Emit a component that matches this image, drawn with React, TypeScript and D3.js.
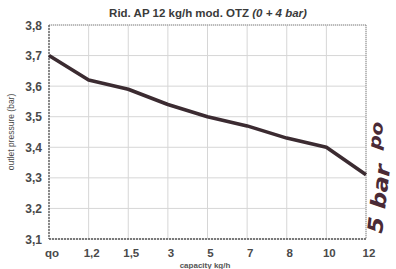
import { scalePoint, scaleLinear, line as d3_line } from "d3";

const categories = ["qo", "1,2", "1,5", "3", "5", "7", "8", "10", "12"];
const pressure = [3.7, 3.62, 3.59, 3.54, 3.5, 3.47, 3.43, 3.4, 3.31];
const yTicks = [3.1, 3.2, 3.3, 3.4, 3.5, 3.6, 3.7, 3.8];

const W = 396;
const H = 269;
const m = { top: 25, right: 30, bottom: 30, left: 49 };

export default function App() {
  const x = scalePoint<string>()
    .domain(categories)
    .range([m.left, W - m.right]);
  const y = scaleLinear()
    .domain([3.1, 3.8])
    .range([H - m.bottom, m.top]);

  const pts = categories.map((c, i) => ({ c, v: pressure[i] }));
  const path = d3_line<(typeof pts)[number]>()
    .x((d) => x(d.c) ?? 0)
    .y((d) => y(d.v))(pts);

  const font = "'Liberation Sans', Arial, sans-serif";
  const x0 = m.left;
  const x1 = W - m.right;
  const yTop = m.top;
  const yBot = H - m.bottom;

  return (
    <svg
      width={W}
      height={H}
      style={{ position: "absolute", left: 0, top: 0, background: "#fff" }}
      fontFamily={font}
    >
      {/* title */}
      <text x={208} y={17} textAnchor="middle" fontSize={11.5} fontWeight="bold" fill="#3a3a3a">
        Rid. AP 12 kg/h mod. OTZ <tspan fontStyle="italic">(0 + 4 bar)</tspan>
      </text>

      {/* grid */}
      {yTicks.map((t) => (
        <line key={"h" + t} x1={x0} x2={x1} y1={y(t)} y2={y(t)} stroke="#d6d6d6" strokeWidth={1} />
      ))}
      {categories.map((c) => (
        <line key={"v" + c} x1={x(c)} x2={x(c)} y1={yTop} y2={yBot} stroke="#d6d6d6" strokeWidth={1} />
      ))}

      {/* frame */}
      <line x1={x0} x2={x1} y1={yTop} y2={yTop} stroke="#8a8a8a" strokeWidth={1} strokeDasharray="1,1" />
      <line x1={x1} x2={x1} y1={yTop} y2={yBot} stroke="#8a8a8a" strokeWidth={1} strokeDasharray="1,1" />
      <line x1={x0} x2={x0} y1={yTop} y2={yBot} stroke="#555" strokeWidth={1.3} strokeDasharray="2,1" />
      <line x1={x0} x2={x1} y1={yBot} y2={yBot} stroke="#555" strokeWidth={1.3} strokeDasharray="2,1" />

      {/* y ticks */}
      {yTicks.map((t) => (
        <text
          key={"yl" + t}
          x={42}
          y={y(t) + 4.5}
          textAnchor="end"
          fontSize={12}
          fontWeight="bold"
          fill="#4a4a4a"
        >
          {t.toFixed(1).replace(".", ",")}
        </text>
      ))}

      {/* x ticks */}
      {categories.map((c) => (
        <text
          key={"xl" + c}
          x={(x(c) ?? 0) + 3}
          y={257}
          textAnchor="middle"
          fontSize={11.5}
          fontWeight="bold"
          fill="#4a4a4a"
        >
          {c}
        </text>
      ))}

      {/* axis titles */}
      <text
        transform={`translate(14,${(yTop + yBot) / 2}) rotate(-90)`}
        textAnchor="middle"
        fontSize={8.5}
        fill="#4a4a4a"
      >
        outlet pressure (bar)
      </text>
      <text x={205} y={268} textAnchor="middle" fontSize={8} fontWeight="bold" fill="#555">
        capacity kg/h
      </text>

      {/* line */}
      {path && (
        <path d={path} fill="none" stroke="#3b2b31" strokeWidth={3.6} strokeLinejoin="round" />
      )}

      {/* handwritten note */}
      <text
        transform="translate(382,234) rotate(-83) scale(1.25,1)"
        fontSize={21}
        fontStyle="italic"
        fontWeight="bold"
        fill="#4a2a36"
        fontFamily="'DejaVu Sans Condensed', sans-serif"
      >
        5 bar
      </text>
      <text
        transform="translate(380,150) rotate(-83) scale(1.3,1)"
        fontSize={17}
        fontStyle="italic"
        fontWeight="bold"
        fill="#4a2a36"
        fontFamily="'DejaVu Sans Condensed', sans-serif"
      >
        po
      </text>
    </svg>
  );
}
